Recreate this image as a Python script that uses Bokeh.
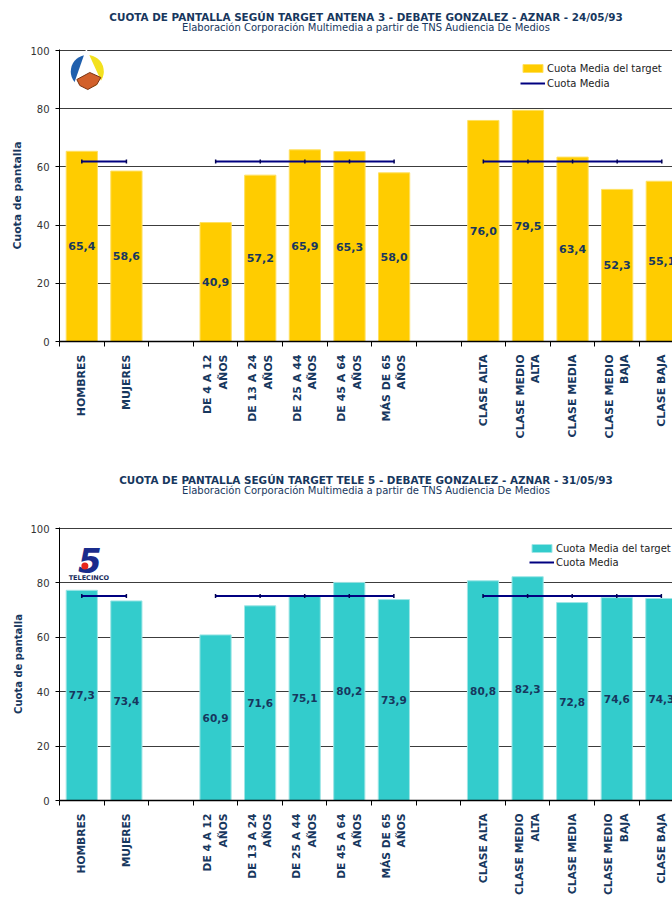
import math
from bokeh.plotting import figure
from bokeh.models import (ColumnDataSource, Range1d, FixedTicker, Legend,
                          LegendItem, Title)
from bokeh.layouts import column
from bokeh.embed import file_html
from bokeh.resources import INLINE
from bokeh.core.properties import value

NAN = float("nan")

# ---------------- data ----------------
categories_a3 = ["HOMBRES", "MUJERES", "", "DE 4 A 12\nAÑOS", "DE 13 A 24\nAÑOS",
                 "DE 25 A 44\nAÑOS", "DE 45 A 64\nAÑOS", "MÁS DE 65\nAÑOS", "",
                 "CLASE ALTA", "CLASE MEDIO\nALTA", "CLASE MEDIA", "CLASE MEDIO\nBAJA", "CLASE BAJA"]
categories_t5 = ["HOMBRES", "MUJERES", "", "DE 4 A 12\nAÑOS", "DE 13 A 24\nAÑOS",
                 "DE 25 A 44\nAÑOS", "DE 45 A 64\nAÑOS", "MÁS DE 65\nAÑOS", "",
                 "CLASE ALTA", "CLASE MEDIO\nALTA", "CLASE MEDIA", "CLASE MEDIO\nBAJA", "CLASE BAJA"]

a3_target = [65.4, 58.6, None, 40.9, 57.2, 65.9, 65.3, 58.0, None, 76.0, 79.5, 63.4, 52.3, 55.1]
a3_media = [61.9, 61.9, None, 61.9, 61.9, 61.9, 61.9, 61.9, None, 61.9, 61.9, 61.9, 61.9, 61.9]

t5_target = [77.3, 73.4, None, 60.9, 71.6, 75.1, 80.2, 73.9, None, 80.8, 82.3, 72.8, 74.6, 74.3]
t5_media = [75.2, 75.2, None, 75.2, 75.2, 75.2, 75.2, 75.2, None, 75.2, 75.2, 75.2, 75.2, 75.2]

y_ticks = [0, 20, 40, 60, 80, 100]

title_a3 = "CUOTA DE PANTALLA SEGÚN TARGET ANTENA 3 - DEBATE GONZALEZ - AZNAR - 24/05/93"
title_t5 = "CUOTA DE PANTALLA SEGÚN TARGET TELE 5 - DEBATE GONZALEZ - AZNAR - 31/05/93"
subtitle = "Elaboración Corporación Multimedia a partir de TNS Audiencia De Medios"
y_label = "Cuota de pantalla"
legend_target = "Cuota Media del target"
legend_media = "Cuota Media"

NAVY_TXT = "#17375E"
LINE_NAVY = "#000080"
FONT = "DejaVu Sans"


def make_chart(title, cats, target, media, bar_color, bar_edge, width, height,
               left, top, bottom, xmax, cat_fs, val_fs, ylab_fs, ylab_standoff,
               gap_standoff, legend_loc, legend_spacing):
    p = figure(width=width, height=height,
               x_range=Range1d(0, xmax), y_range=Range1d(0, 100.4),
               output_backend="svg", toolbar_location=None, title=None,
               min_border_left=left, min_border_right=0,
               min_border_top=top, min_border_bottom=bottom,
               outline_line_color=None, background_fill_color="white")
    frame_w = width - left
    frame_h = height - top - bottom
    p.extra_x_ranges = {"px": Range1d(0, frame_w)}
    p.extra_y_ranges = {"px": Range1d(0, frame_h)}

    n = len(cats)
    centers = [i + 0.5 for i in range(n)]
    bx, btop, blab, bly = [], [], [], []
    for c, v in zip(centers, target):
        if v is not None:
            bx.append(c)
            btop.append(v)
            blab.append(f"{v:.1f}".replace(".", ","))
            bly.append(v / 2.0)
    src = ColumnDataSource(dict(x=bx, top=btop, label=blab, ly=bly))

    bars = p.vbar(x="x", top="top", width=0.7, bottom=0, source=src,
                  fill_color=bar_color, line_color=bar_edge, line_width=1)
    p.text(x="x", y="ly", text="label", source=src, text_align="center",
           text_baseline="middle", text_font=value(FONT), text_font_style="bold",
           text_font_size=val_fs, text_color=NAVY_TXT)

    my = [NAN if v is None else v for v in media]
    lsrc = ColumnDataSource(dict(x=centers, y=my))
    line = p.line(x="x", y="y", source=lsrc, line_color=LINE_NAVY, line_width=2)
    p.scatter(x="x", y="y", source=lsrc, marker="dash", angle=math.pi / 2,
              size=4, line_color="#000050", line_width=1.5)

    p.xgrid.visible = False
    p.ygrid.grid_line_color = "#3c3c3c"
    p.ygrid.grid_line_width = 1

    ya = p.yaxis[0]
    ya.ticker = FixedTicker(ticks=y_ticks, minor_ticks=[])
    ya.major_tick_out = 4
    ya.major_tick_in = 0
    ya.minor_tick_out = 0
    ya.axis_line_color = "black"
    ya.major_tick_line_color = "black"
    ya.major_label_text_font = FONT
    ya.major_label_text_font_size = "10px"
    ya.major_label_text_color = "#333333"
    ya.major_label_standoff = 6
    ya.axis_label = y_label
    ya.axis_label_text_font = FONT
    ya.axis_label_text_font_style = "bold"
    ya.axis_label_text_font_size = ylab_fs
    ya.axis_label_text_color = NAVY_TXT
    ya.axis_label_standoff = ylab_standoff

    xa = p.xaxis[0]
    tick_pos = [c for c, lab in zip(centers, cats) if lab]
    xa.ticker = FixedTicker(ticks=tick_pos, minor_ticks=list(range(n + 1)))
    xa.major_label_overrides = {c: lab for c, lab in zip(centers, cats) if lab}
    xa.major_tick_out = 0
    xa.major_tick_in = 0
    xa.minor_tick_out = 5
    xa.minor_tick_in = 0
    xa.minor_tick_line_color = "black"
    xa.axis_line_color = "black"
    xa.axis_line_width = 1.5
    xa.major_label_orientation = math.pi / 2
    xa.major_label_text_font = FONT
    xa.major_label_text_font_style = "bold"
    xa.major_label_text_font_size = cat_fs
    xa.major_label_text_color = NAVY_TXT
    xa.major_label_standoff = 8

    # titles: a blank spacer next to the frame, then subtitle, then title
    p.add_layout(Title(text=" ", text_font_size="1px", standoff=gap_standoff), "above")
    p.add_layout(Title(text=subtitle, align="center", text_font=FONT,
                       text_font_size="10px", text_font_style="normal",
                       text_color=NAVY_TXT, standoff=-3), "above")
    p.add_layout(Title(text=title, align="center", text_font=FONT,
                       text_font_size="10.4px", text_font_style="bold",
                       text_color=NAVY_TXT, standoff=-2), "above")

    legend = Legend(items=[LegendItem(label=legend_target, renderers=[bars]),
                           LegendItem(label=legend_media, renderers=[line])],
                    location=legend_loc, orientation="vertical",
                    border_line_color=None, background_fill_color="white",
                    background_fill_alpha=1.0, padding=0, margin=0,
                    spacing=legend_spacing, glyph_width=25, glyph_height=10,
                    label_height=12, label_standoff=2,
                    label_text_font=FONT, label_text_font_size="10px",
                    label_text_color="#222222")
    p.add_layout(legend)
    return p, frame_w, frame_h


# ---------- chart 1 : Antena 3 ----------
p1, FW1, FH1 = make_chart(title_a3, categories_a3, a3_target, a3_media, "#FFCC00", "#FFE060",
                          672, 451, 59, 49, 110, 13.74, "11px", "11px", "10.8px", 3,
                          15.3, (461, 292 - 13 - 27), 3)

# Antena 3 logo (pixel coordinates inside the frame)
cx, cy = 27.8, FH1 - 22.0
R = 16.5
p1.wedge(x=[cx], y=[cy], radius=R, start_angle=math.radians(90), end_angle=math.radians(250),
         fill_color="#1F5FAD", line_color=None, x_range_name="px", y_range_name="px")
p1.wedge(x=[cx], y=[cy], radius=R, start_angle=math.radians(-70), end_angle=math.radians(90),
         fill_color="#F3E11E", line_color=None, x_range_name="px", y_range_name="px")
tri_dx = [-1.0, -15.0, 15.0]
tri_dy = [23.0, -17.0, -12.0]
p1.patch(x=[cx + d for d in tri_dx], y=[cy + d for d in tri_dy], fill_color="white",
         line_color=None, x_range_name="px", y_range_name="px")
or_dx = [2.5, 13.5, 9.5, 0.5, -7.5, -10.5]
or_dy = [-1.0, -6.0, -13.0, -18.0, -14.0, -8.0]
p1.patch(x=[cx + d for d in or_dx], y=[cy + d for d in or_dy], fill_color="#D2602A",
         line_color="#7A3412", line_width=1, x_range_name="px", y_range_name="px")

# ---------- chart 2 : Tele 5 ----------
p2, FW2, FH2 = make_chart(title_t5, categories_t5, t5_target, t5_media, "#33CCCC", "#9FE6E6",
                          672, 447, 56, 76, 95, 13.75, "10.7px", "10.5px", "10px", 3,
                          29.5, (470, 276 - 18 - 26), 2)

tx, ty = 30.5, FH2 - 33.0
p2.text(x=[tx], y=[ty], text=["5"], text_align="center", text_baseline="middle",
        text_font=value(FONT), text_font_style="bold italic", text_font_size="34px",
        text_color="#1A2C8C", x_range_name="px", y_range_name="px")
p2.scatter(x=[tx - 5.0], y=[ty - 6.0], marker="circle", size=7, fill_color="#E8261C",
           line_color=None, x_range_name="px", y_range_name="px")
p2.text(x=[tx - 1.0], y=[FH2 - 51.0], text=["TELECINCO"], text_align="center",
        text_baseline="middle", text_font=value(FONT), text_font_style="bold",
        text_font_size="6.5px", text_color="#1A2C5C", x_range_name="px", y_range_name="px")

layout = column(p1, p2, spacing=0)
open("out.html", "w").write(file_html(layout, INLINE))
